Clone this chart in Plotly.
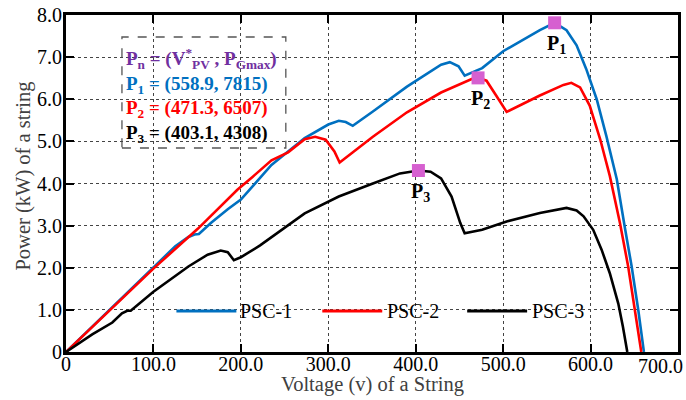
import plotly.graph_objects as go

# ---------------- data ----------------
psc1_v = [0, 50, 100, 125, 140, 147, 152, 166, 185, 200, 235, 273, 300, 312, 320, 328, 351, 390, 429, 439, 449, 456, 476, 500, 542, 558.9, 572.5, 584, 595, 607, 618, 630, 639, 647, 654.6, 661]
psc1_p = [0, 1.0, 2.02, 2.51, 2.73, 2.79, 2.80, 3.07, 3.39, 3.62, 4.44, 5.08, 5.40, 5.49, 5.46, 5.37, 5.71, 6.30, 6.82, 6.88, 6.78, 6.56, 6.74, 7.14, 7.64, 7.815, 7.64, 7.28, 6.72, 6.0, 5.13, 4.1, 2.98, 2.03, 0.99, 0]

psc2_v = [0, 50, 100, 151, 196, 213, 235, 254, 273, 285, 297, 307, 313, 351, 390, 429, 464, 471.3, 481, 492, 504, 542, 569, 578, 588, 599, 611, 622, 633.6, 643, 651, 658]
psc2_p = [0, 0.99, 1.98, 2.93, 3.85, 4.15, 4.55, 4.74, 5.05, 5.11, 5.04, 4.76, 4.5, 5.11, 5.69, 6.16, 6.48, 6.507, 6.44, 6.09, 5.70, 6.09, 6.34, 6.39, 6.28, 5.85, 5.05, 4.18, 3.06, 2.03, 0.99, 0]

psc3_v = [0, 30, 53, 64, 70, 74, 100, 140, 162, 177, 185, 192, 200, 222, 273, 312, 351, 382, 403.1, 417, 429, 441, 451, 456, 476, 504, 542, 572.5, 584, 592, 603, 612.6, 622, 631.7, 637, 642]
psc3_p = [0, 0.42, 0.70, 0.92, 0.98, 0.98, 1.43, 2.03, 2.31, 2.41, 2.37, 2.18, 2.25, 2.53, 3.29, 3.69, 4.0, 4.24, 4.308, 4.28, 4.12, 3.69, 3.06, 2.82, 2.9, 3.1, 3.3, 3.42, 3.36, 3.22, 2.9, 2.43, 1.87, 1.15, 0.6, 0]

mpp_names = ["P<sub>1</sub>", "P<sub>2</sub>", "P<sub>3</sub>"]
mpp_v = [558.9, 471.3, 403.1]
mpp_p = [7.815, 6.507, 4.308]

series_names = ["PSC-1", "PSC-2", "PSC-3"]
series_colors = ["#0070C0", "#FF0000", "#000000"]

x_ticks = [0, 100, 200, 300, 400, 500, 600, 700]
x_ticktext = ["0", "100.0", "200.0", "300.0", "400.0", "500.0", "600.0", ""]
y_ticks = [0, 1, 2, 3, 4, 5, 6, 7, 8]
y_ticktext = ["0", "1.0", "2.0", "3.0", "4.0", "5.0", "6.0", "7.0", "8.0"]

x_title = "Voltage (v) of a String"
y_title = "Power (kW) of a string"

FONT = "Liberation Serif, Times New Roman, serif"

# plot area in page pixels
L, R, T, B = 65.5, 678.0, 15.0, 352.0
W, H = R - L, B - T
def px(xp):
    return (xp - L) / W
def py(yp):
    return (B - yp) / H

fig = go.Figure()
for v, p, name, col in zip([psc1_v, psc2_v, psc3_v], [psc1_p, psc2_p, psc3_p], series_names, series_colors):
    fig.add_trace(go.Scatter(x=v, y=p, mode="lines", name=name,
                             line=dict(color=col, width=2.6), showlegend=False))

fig.add_trace(go.Scatter(x=mpp_v, y=mpp_p, mode="markers", showlegend=False,
                         marker=dict(symbol="square", size=13, color="#D660D0")))

# point labels
for name, v, p in zip(mpp_names, mpp_v, mpp_p):
    fig.add_annotation(x=v, y=p, text="<b>" + name + "</b>", showarrow=False,
                       xanchor="center", yanchor="middle", yshift=-22, xshift=2,
                       font=dict(family=FONT, size=20, color="black"))

# info box
fig.add_shape(type="rect", xref="paper", yref="paper",
              x0=px(121.5), x1=px(285.5), y0=py(148), y1=py(37),
              line=dict(color="#555555", width=1.3, dash="dash"),
              fillcolor="white", layer="between")

info_lines = [
    ("#7030A0", "P<sub>n</sub> = (V<sup>*</sup><sub>PV</sub> , P<sub>Gmax</sub>)"),
    ("#0070C0", "P<sub>1</sub> = (%.1f, %d)" % (mpp_v[0], round(mpp_p[0] * 1000))),
    ("#FF0000", "P<sub>2</sub> = (%.1f, %d)" % (mpp_v[1], round(mpp_p[1] * 1000))),
    ("#000000", "P<sub>3</sub> = (%.1f, %d)" % (mpp_v[2], round(mpp_p[2] * 1000))),
]
info_text = "<br>".join("<span style='color:%s'><b>%s</b></span>" % (c, t) for c, t in info_lines)
fig.add_annotation(xref="paper", yref="paper", x=px(124), y=py(96), text=info_text,
                   showarrow=False, xanchor="left", yanchor="middle", align="left",
                   font=dict(family=FONT, size=19, color="black"))

# legend (manual)
leg_y = py(311)
leg_items = [(176, 236, 238), (322, 382, 385), (467, 527, 530)]
for (x0, x1, xt), name, col in zip(leg_items, series_names, series_colors):
    fig.add_shape(type="line", xref="paper", yref="paper", x0=px(x0), x1=px(x1),
                  y0=leg_y, y1=leg_y, line=dict(color=col, width=3))
    fig.add_annotation(xref="paper", yref="paper", x=px(xt), y=leg_y, text=name,
                       showarrow=False, xanchor="left", yanchor="middle",
                       font=dict(family=FONT, size=20, color="black"))

# last x tick label (shifted to stay inside page)
fig.add_annotation(xref="paper", yref="paper", x=px(685), y=py(366), text="700.0",
                   showarrow=False, xanchor="right", yanchor="middle",
                   font=dict(family=FONT, size=20, color="black"))

# axis titles
fig.add_annotation(xref="paper", yref="paper", x=px((L + R) / 2), y=py(384), text=x_title,
                   showarrow=False, xanchor="center", yanchor="middle",
                   font=dict(family=FONT, size=20.5, color="#404040"))
fig.add_annotation(xref="paper", yref="paper", x=px(23), y=py(176), text=y_title,
                   showarrow=False, xanchor="center", yanchor="middle", textangle=-90,
                   font=dict(family=FONT, size=20.5, color="#404040"))

axis_common = dict(showline=True, linewidth=3, linecolor="black", mirror="ticks",
                   ticks="inside", ticklen=8, tickwidth=2, tickcolor="black",
                   showgrid=True, gridcolor="#444444", gridwidth=1, griddash="dot",
                   zeroline=False, tickfont=dict(family=FONT, size=20, color="black"))

fig.update_xaxes(range=[0, 700], tickvals=x_ticks, ticktext=x_ticktext,
                 ticklabelstandoff=-8, **axis_common)
fig.update_yaxes(range=[0, 8], tickvals=y_ticks, ticktext=y_ticktext,
                 ticklabelstandoff=-3, **axis_common)

fig.update_layout(width=686, height=400,
                  margin=dict(l=L, r=686 - R, t=T, b=400 - B, autoexpand=False),
                  plot_bgcolor="white", paper_bgcolor="white", showlegend=False,
                  font=dict(family=FONT))

fig.write_html("out.html")
